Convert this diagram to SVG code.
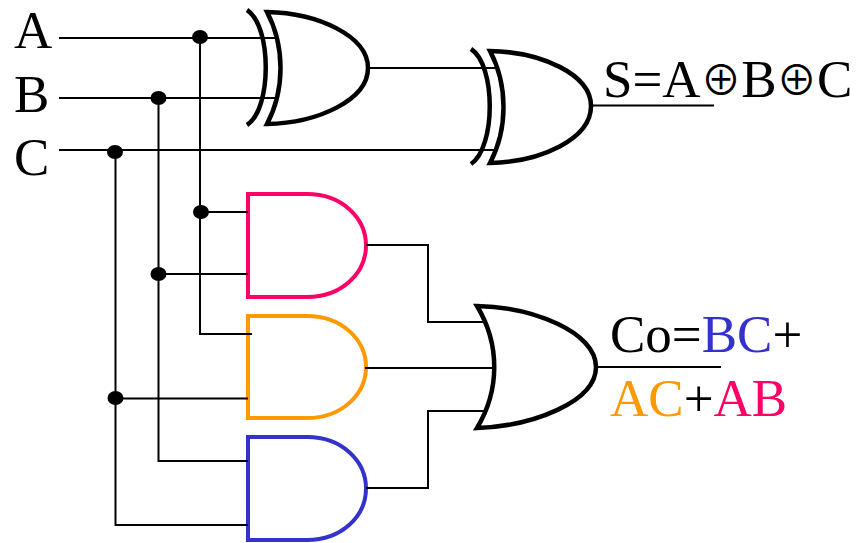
<svg xmlns="http://www.w3.org/2000/svg" width="857" height="543" viewBox="0 0 857 543">
<defs>
<style>
.w{fill:none;stroke:#000;stroke-width:2}
.g{fill:#fff;stroke:#000;stroke-width:4.500}
.b{fill:none;stroke:#000;stroke-width:4.500}
.d{fill:#000;stroke:none}
text{font-family:"Liberation Serif","Times New Roman",serif;font-size:53px;fill:#000}
.x{font-family:"Noto Sans CJK SC",sans-serif;font-size:40.500px}
</style>
</defs>
<rect width="857" height="543" fill="#fff"/>
<g id="gate-xor1">
<path class="g" d="M267 12C318 13 368 36 368 68C368 100 318 123 267 124C285 90 285 46 267 12Z"/>
<path class="b" d="M247 10C272 26 272 109 247 125"/>
</g>
<g id="gate-xor2">
<path class="g" d="M490 51C541 52 591 74 591 106C591 139 541 162 490 163C508 129 508 85 490 51Z"/>
<path class="b" d="M471 49C496 65 496 147 471 164"/>
</g>
<g id="gate-and1"><path d="M248 194H307C342 194 366 218 366 245.500C366 273 342 297 307 297H248Z" fill="#fff" stroke="#f06" stroke-width="4"/></g>
<g id="gate-and2"><path d="M248 316H307C342 316 366 340 366 367C366 394 342 418 307 418H248Z" fill="#fff" stroke="#f90" stroke-width="4"/></g>
<g id="gate-and3"><path d="M248 437H307C342 437 366 461 366 488.500C366 516 342 540 307 540H248Z" fill="#fff" stroke="#33c" stroke-width="4"/></g>
<g id="gate-or"><path class="g" d="M477 306C533 307 596 332 596 367C596 402 533 426 477 428C500 390 500 344 477 306Z"/></g>
<g id="connectors">
<path class="w" d="M59 38H275M59 98H275M59 150H495M369 68H495"/>
<path class="w" d="M200 38V334H252M158.500 98V461H248M115.500 150V525H248M200 212H248M158 274H248M115 398.500H248"/>
<path class="w" d="M366 245H428V322H484M365 368H494M366 488H428V411H484M592 105.500H714M597 367H721"/>
<ellipse class="d" cx="200" cy="37" rx="8" ry="7"/>
<ellipse class="d" cx="158.500" cy="98" rx="8" ry="7"/>
<ellipse class="d" cx="115" cy="152" rx="8" ry="7"/>
<ellipse class="d" cx="201" cy="212" rx="8" ry="7"/>
<ellipse class="d" cx="158.500" cy="274" rx="8" ry="7"/>
<ellipse class="d" cx="115.500" cy="398" rx="8" ry="7"/>
</g>
<g id="labels">
<text x="14" y="48">A</text>
<text x="14" y="112">B</text>
<text x="14" y="175">C</text>
<text x="603" y="97">S=A<tspan class="x" dy="-2">⊕</tspan><tspan dy="2">B</tspan><tspan class="x" dy="-2">⊕</tspan><tspan dy="2">C</tspan></text>
<text x="610" y="352">Co=<tspan fill="#33c">BC</tspan>+</text>
<text x="610" y="416"><tspan fill="#f90">AC</tspan>+<tspan fill="#f06">AB</tspan></text>
</g>
</svg>
